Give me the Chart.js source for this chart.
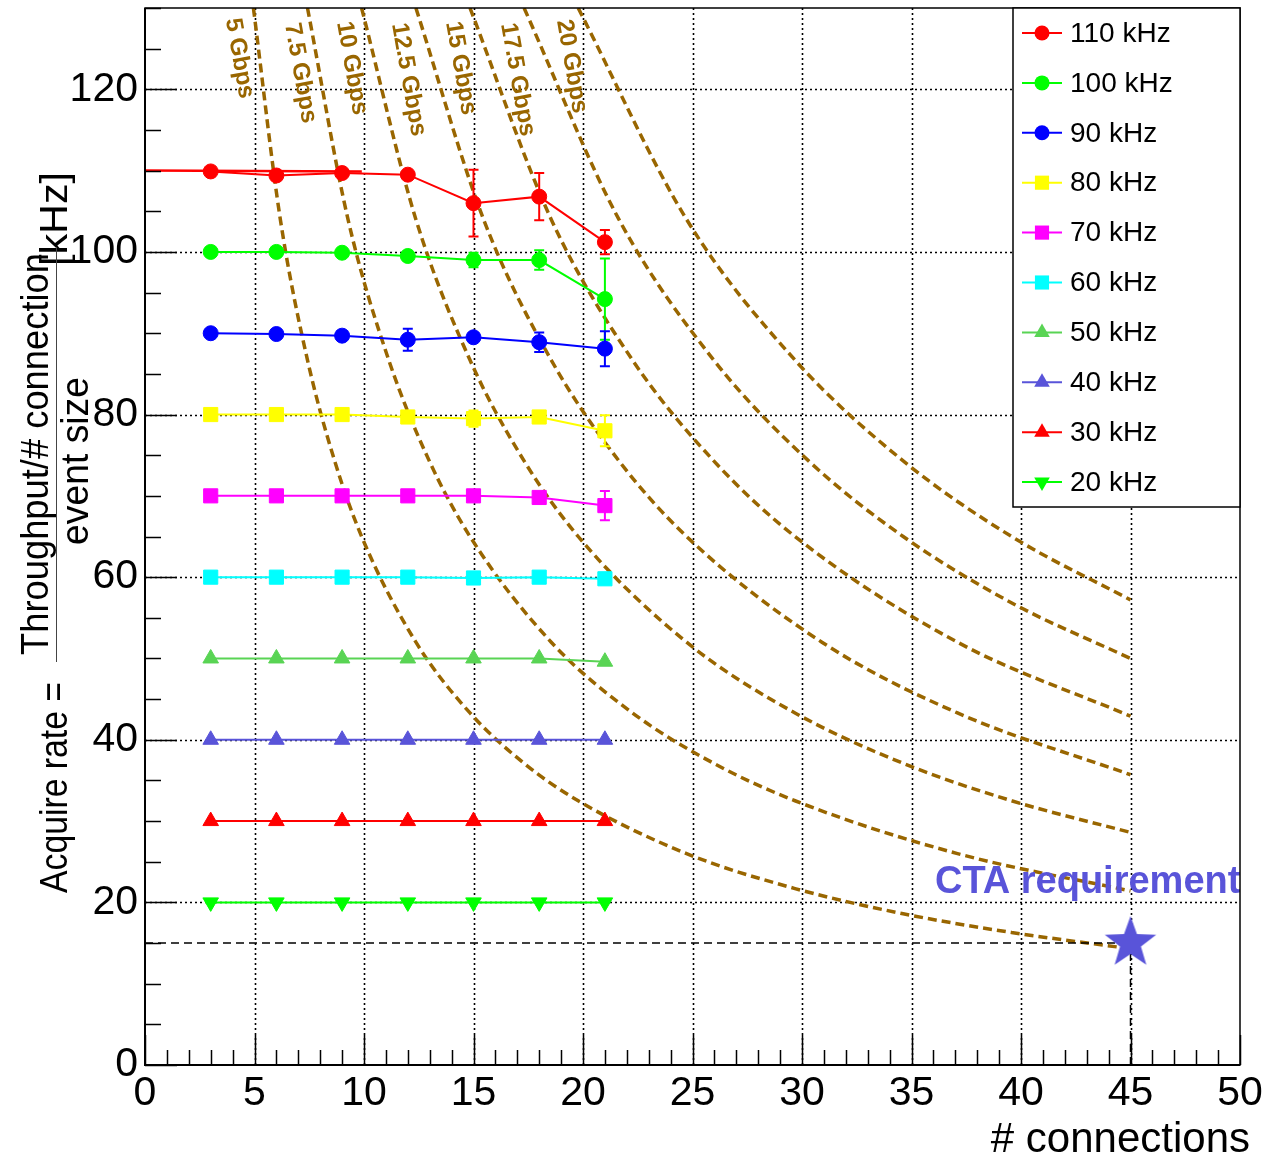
<!DOCTYPE html>
<html>
<head>
<meta charset="utf-8">
<script src="https://cdn.jsdelivr.net/npm/chart.js@4.4.0/dist/chart.umd.min.js"></script>
<style>html,body{margin:0;padding:0;background:#fff;}canvas{display:block;}</style>
</head>
<body>
<canvas id="c" width="1269" height="1162"></canvas>
<script>
// ---------------- data ----------------
const connections = [3, 6, 9, 12, 15, 18, 21];
const rateLabels = ['110 kHz', '100 kHz', '90 kHz', '80 kHz', '70 kHz', '60 kHz', '50 kHz', '40 kHz', '30 kHz', '20 kHz'];
const rate110 = [109.9, 109.4, 109.7, 109.5, 106.0, 106.8, 101.2];
const rate100 = [100.0, 100.0, 99.9, 99.5, 99.0, 99.0, 94.2];
const rate90  = [90.0, 89.9, 89.7, 89.2, 89.5, 88.9, 88.1];
const rate80  = [80.0, 80.0, 80.0, 79.7, 79.5, 79.7, 78.0];
const rate70  = [70.0, 70.0, 70.0, 70.0, 70.0, 69.8, 68.8];
const rate60  = [60.0, 60.0, 60.0, 60.0, 59.9, 60.0, 59.8];
const rate50  = [50.0, 50.0, 50.0, 50.0, 50.0, 50.0, 49.6];
const rate40  = [40.0, 40.0, 40.0, 40.0, 40.0, 40.0, 40.0];
const rate30  = [30.0, 30.0, 30.0, 30.0, 30.0, 30.0, 30.0];
const rate20  = [20.0, 20.0, 20.0, 20.0, 20.0, 20.0, 20.0];
const err110 = [0, 0, 0, 0, 4.1, 2.9, 1.5];
const err100 = [0, 0, 0, 0.6, 0.9, 1.2, 5.0];
const err90  = [0, 0, 0, 1.35, 0, 1.2, 2.15];
const err80  = [0, 0, 0, 0, 1.0, 0, 1.9];
const err70  = [0, 0, 0, 0, 0, 0, 1.8];
const errNone = [0, 0, 0, 0, 0, 0, 0];
// extra red segment at the 110 kHz level on the left
const line110X = [0, 9.9];
const line110Y = [110.0, 109.9];

// throughput curves
const gbpsLabels = ['5 Gbps', '7.5 Gbps', '10 Gbps', '12.5 Gbps', '15 Gbps', '17.5 Gbps', '20 Gbps'];
const curve5X  = [4.95, 6.18, 7.42, 8.66, 9.89, 12.37, 14.84, 17.31, 19.78, 24.73, 29.68, 34.62, 39.57, 45];
const curve5Y  = [130, 104, 86.7, 74.3, 65, 52, 43.3, 37.1, 32.5, 26, 21.7, 18.6, 16.3, 14.3];
const curve7X  = [7.42, 9.27, 11.13, 12.98, 14.84, 18.55, 22.26, 25.97, 29.68, 37.10, 45];
const curve7Y  = [130, 104, 86.7, 74.3, 65, 52, 43.3, 37.1, 32.5, 26, 21.4];
const curve10X = [9.89, 12.37, 14.84, 17.31, 19.78, 24.73, 29.68, 34.62, 39.57, 45];
const curve10Y = [130, 104, 86.7, 74.3, 65, 52, 43.3, 37.1, 32.5, 28.6];
const curve12X = [12.37, 15.46, 18.55, 21.64, 24.73, 30.91, 37.10, 45];
const curve12Y = [130, 104, 86.7, 74.3, 65, 52, 43.3, 35.7];
const curve15X = [14.84, 18.55, 22.26, 25.97, 29.68, 37.10, 45];
const curve15Y = [130, 104, 86.7, 74.3, 65, 52, 42.9];
const curve17X = [17.31, 21.64, 25.97, 30.30, 34.62, 39.6, 45];
const curve17Y = [130, 104, 86.7, 74.3, 65, 56.8, 50.0];
const curve20X = [19.78, 24.73, 29.68, 34.62, 39.57, 45];
const curve20Y = [130, 104, 86.7, 74.3, 65, 57.2];
const gbpsLabelX = [3.69, 6.39, 8.77, 11.28, 13.74, 16.26, 18.81];
const gbpsLabelY = [128.6, 128.0, 128.2, 128.0, 128.2, 128.0, 128.4];

// CTA requirement
const ctaX = [45];
const ctaY = [15];
const ctaLineHX = [0, 45];
const ctaLineHY = [15, 15];
const ctaLineVX = [45, 45];
const ctaLineVY = [0, 15];
const ctaTextX = 36.07;
const ctaTextY = 21.2;

// tick labels
const xTicks = [0, 5, 10, 15, 20, 25, 30, 35, 40, 45, 50];
const yTicks = [0, 20, 40, 60, 80, 100, 120];

// ---------------- styles ----------------
const FONT = 'Liberation Sans, Arial, Helvetica, sans-serif';
const BROWN = '#996600';
const SLATE = 'rgb(89,84,217)';
const LGREEN = 'rgb(89,212,84)';
const rates = [rate110, rate100, rate90, rate80, rate70, rate60, rate50, rate40, rate30, rate20];
const errs = [err110, err100, err90, err80, err70, errNone, errNone, errNone, errNone, errNone];
const sColors = ['#ff0000', '#00ff00', '#0000ff', '#ffff00', '#ff00ff', '#00ffff', LGREEN, SLATE, '#ff0000', '#00ff00'];
const sStyles = ['circle', 'circle', 'circle', 'rect', 'rect', 'rect', 'triangle', 'triangle', 'triangle', 'triangle'];
const sRadius = [7.5, 7.5, 7.5, 10, 10, 10, 9, 9, 9, 9];
const sRot = [0, 0, 0, 0, 0, 0, 0, 0, 0, 180];

const zip = (xs, ys) => xs.map((x, i) => ({x: x, y: ys[i]}));

function makeStar(R, r, color) {
  const c = document.createElement('canvas');
  const s = Math.ceil(2 * R + 2);
  c.width = s; c.height = s;
  const g = c.getContext('2d');
  g.fillStyle = color;
  g.beginPath();
  for (let k = 0; k < 10; k++) {
    const rad = (k % 2 === 0) ? R : r;
    const a = -Math.PI / 2 + k * Math.PI / 5;
    const px = s / 2 + rad * Math.cos(a), py = s / 2 + rad * Math.sin(a);
    if (k) g.lineTo(px, py); else g.moveTo(px, py);
  }
  g.closePath();
  g.fill();
  return c;
}

const datasets = [];
rates.forEach((r, i) => {
  datasets.push({
    label: rateLabels[i],
    data: zip(connections, r),
    errors: errs[i],
    legendEntry: true,
    borderColor: sColors[i],
    backgroundColor: sColors[i],
    pointBackgroundColor: sColors[i],
    pointBorderColor: sColors[i],
    pointBorderWidth: 1,
    pointStyle: sStyles[i],
    pointRadius: sRadius[i],
    pointRotation: sRot[i],
    borderWidth: 2,
    tension: 0,
    fill: false,
    order: 0
  });
});
datasets.push({
  label: '110 line', data: zip(line110X, line110Y), borderColor: '#ff0000', borderWidth: 2.5,
  pointRadius: 0, fill: false, order: 0
});
const curveXs = [curve5X, curve7X, curve10X, curve12X, curve15X, curve17X, curve20X];
const curveYs = [curve5Y, curve7Y, curve10Y, curve12Y, curve15Y, curve17Y, curve20Y];
curveXs.forEach((cx, i) => {
  datasets.push({
    label: gbpsLabels[i], data: zip(cx, curveYs[i]), borderColor: BROWN, borderWidth: 3.5,
    borderDash: [9, 5], pointRadius: 0, fill: false, cubicInterpolationMode: 'monotone', order: 2
  });
});
datasets.push({
  label: 'cta h', data: zip(ctaLineHX, ctaLineHY), borderColor: '#000', borderWidth: 1.5,
  borderDash: [8, 5], pointRadius: 0, fill: false, order: 1
});
datasets.push({
  label: 'cta v', data: zip(ctaLineVX, ctaLineVY), borderColor: '#000', borderWidth: 1.5,
  borderDash: [8, 5], pointRadius: 0, fill: false, order: 1
});
datasets.push({
  label: 'CTA requirement', data: zip(ctaX, ctaY), showLine: false,
  pointStyle: makeStar(27, 11, SLATE), pointRadius: 27, order: -1, clip: false
});

// ---------------- plugins ----------------
function markerPath(ctx, style, x, y, r, rot) {
  ctx.beginPath();
  if (style === 'circle') {
    ctx.arc(x, y, r, 0, Math.PI * 2);
  } else if (style === 'rect') {
    const s = r * Math.SQRT1_2;
    ctx.rect(x - s, y - s, 2 * s, 2 * s);
  } else {
    let a = rot * Math.PI / 180;
    for (let k = 0; k < 3; k++) {
      const px = x + Math.sin(a) * r, py = y - Math.cos(a) * r;
      if (k) ctx.lineTo(px, py); else ctx.moveTo(px, py);
      a += 2 * Math.PI / 3;
    }
    ctx.closePath();
  }
}

const rootPlugin = {
  id: 'root',
  beforeDatasetsDraw(chart) {
    const {ctx, chartArea: a, scales: {x, y}} = chart;
    ctx.save();
    ctx.strokeStyle = '#000';
    ctx.lineWidth = 1.6;
    ctx.setLineDash([2, 3]);
    xTicks.forEach(v => {
      if (v <= 0 || v >= 50) return;
      const px = Math.round(x.getPixelForValue(v)) + 0.5;
      ctx.beginPath(); ctx.moveTo(px, a.top); ctx.lineTo(px, a.bottom); ctx.stroke();
    });
    yTicks.forEach(v => {
      if (v <= 0) return;
      const py = Math.round(y.getPixelForValue(v)) + 0.5;
      ctx.beginPath(); ctx.moveTo(a.left, py); ctx.lineTo(a.right, py); ctx.stroke();
    });
    ctx.restore();
  },
  afterDatasetsDraw(chart) {
    const {ctx, chartArea: a, scales: {x, y}} = chart;
    // error bars
    chart.data.datasets.forEach((ds, di) => {
      if (!ds.errors) return;
      const meta = chart.getDatasetMeta(di);
      ds.errors.forEach((e, i) => {
        if (!e) return;
        const p = meta.data[i];
        const v = ds.data[i].y;
        const y1 = y.getPixelForValue(v + e), y2 = y.getPixelForValue(v - e);
        ctx.save();
        ctx.strokeStyle = ds.borderColor;
        ctx.lineWidth = 2;
        ctx.beginPath();
        ctx.moveTo(p.x, y1); ctx.lineTo(p.x, y2);
        ctx.moveTo(p.x - 5, y1); ctx.lineTo(p.x + 5, y1);
        ctx.moveTo(p.x - 5, y2); ctx.lineTo(p.x + 5, y2);
        ctx.stroke();
        ctx.restore();
      });
    });
    // Gbps labels
    ctx.save();
    ctx.fillStyle = BROWN;
    ctx.font = 'bold 24px ' + FONT;
    ctx.textAlign = 'left';
    ctx.textBaseline = 'alphabetic';
    gbpsLabels.forEach((t, i) => {
      ctx.save();
      ctx.translate(x.getPixelForValue(gbpsLabelX[i]), y.getPixelForValue(gbpsLabelY[i]));
      ctx.rotate(80 * Math.PI / 180);
      ctx.fillText(t, 0, 0);
      ctx.restore();
    });
    ctx.restore();
    // CTA text
    ctx.save();
    ctx.fillStyle = SLATE;
    ctx.font = 'bold 38px ' + FONT;
    ctx.textAlign = 'left';
    ctx.textBaseline = 'alphabetic';
    ctx.fillText('CTA requirement', x.getPixelForValue(ctaTextX), y.getPixelForValue(ctaTextY));
    ctx.restore();
    // frame
    ctx.save();
    ctx.strokeStyle = '#000';
    ctx.lineWidth = 1.5;
    ctx.strokeRect(a.left, a.top, a.right - a.left, a.bottom - a.top);
    ctx.lineWidth = 2;
    ctx.beginPath();
    ctx.moveTo(a.left, a.top); ctx.lineTo(a.left, a.bottom); ctx.lineTo(a.right, a.bottom);
    ctx.stroke();
    // ticks
    ctx.lineWidth = 1.5;
    ctx.beginPath();
    for (let v = 0; v <= 50; v += 1) {
      const px = Math.round(x.getPixelForValue(v)) + 0.5;
      const len = (v % 5 === 0) ? 30 : 15;
      ctx.moveTo(px, a.bottom); ctx.lineTo(px, a.bottom - len);
    }
    for (let v = 0; v <= 130; v += 5) {
      const py = Math.round(y.getPixelForValue(v)) + 0.5;
      const len = (v % 20 === 0) ? 32 : 16;
      ctx.moveTo(a.left, py); ctx.lineTo(a.left + len, py);
    }
    ctx.stroke();
    ctx.restore();
  },
  afterDraw(chart) {
    const {ctx, chartArea: a} = chart;
    // legend
    const lx = 1013, ly = a.top, lw = a.right - 1013, lh = 499;
    ctx.save();
    ctx.fillStyle = '#fff';
    ctx.fillRect(lx, ly, lw, lh);
    ctx.strokeStyle = '#000';
    ctx.lineWidth = 1.5;
    ctx.strokeRect(lx, ly, lw, lh);
    ctx.font = '28px ' + FONT;
    ctx.textAlign = 'left';
    ctx.textBaseline = 'middle';
    let k = 0;
    chart.data.datasets.forEach(ds => {
      if (!ds.legendEntry) return;
      const cy = ly + 25 + k * 49.9;
      ctx.strokeStyle = ds.borderColor;
      ctx.lineWidth = 2;
      ctx.beginPath(); ctx.moveTo(1022, cy); ctx.lineTo(1062, cy); ctx.stroke();
      ctx.fillStyle = ds.borderColor;
      markerPath(ctx, ds.pointStyle, 1042, cy, ds.pointRadius, ds.pointRotation || 0);
      ctx.fill();
      ctx.fillStyle = '#000';
      ctx.fillText(ds.label, 1070, cy + 1);
      k++;
    });
    ctx.restore();
    // axis titles
    ctx.save();
    ctx.fillStyle = '#000';
    ctx.font = '42px ' + FONT;
    ctx.textAlign = 'right';
    ctx.textBaseline = 'alphabetic';
    ctx.fillText('# connections', 1250, 1152);
    ctx.restore();
    const rot = (text, bx, sy, len, size) => {
      ctx.save();
      ctx.fillStyle = '#000';
      ctx.font = size + 'px ' + FONT;
      const w = ctx.measureText(text).width;
      ctx.translate(bx, sy);
      ctx.rotate(-Math.PI / 2);
      ctx.scale(len / w, 1);
      ctx.textAlign = 'left';
      ctx.textBaseline = 'alphabetic';
      ctx.fillText(text, 0, 0);
      ctx.restore();
    };
    rot('Acquire rate =', 67, 893, 211, 39);
    rot('Throughput/# connection', 48, 655, 402, 38);
    rot('event size', 88, 545, 168, 38);
    rot('[kHz]', 67, 266, 94, 38);
    ctx.save();
    ctx.strokeStyle = '#444';
    ctx.lineWidth = 1;
    ctx.beginPath(); ctx.moveTo(56.5, 247); ctx.lineTo(56.5, 662); ctx.stroke();
    ctx.restore();
  }
};

Chart.defaults.font.family = FONT;
new Chart(document.getElementById('c'), {
  type: 'line',
  data: {datasets: datasets},
  options: {
    responsive: false,
    animation: false,
    events: [],
    layout: {autoPadding: false, padding: {top: 8, right: 29, left: 0, bottom: 0}},
    plugins: {legend: {display: false}, tooltip: {enabled: false}},
    scales: {
      x: {
        type: 'linear', min: 0, max: 50,
        grid: {display: false, drawTicks: false},
        border: {display: false},
        ticks: {
          stepSize: 5, includeBounds: false, color: '#000', padding: 4, maxRotation: 0,
          font: {size: 41, family: FONT},
          callback: v => xTicks.includes(v) ? String(v) : ''
        },
        afterFit: s => { s.height = 97; s.paddingLeft = 0; s.paddingRight = 0; }
      },
      y: {
        type: 'linear', min: 0, max: 130,
        grid: {display: false, drawTicks: false},
        border: {display: false},
        ticks: {
          stepSize: 20, includeBounds: false, color: '#000', padding: 7,
          font: {size: 41, family: FONT},
          callback: v => yTicks.includes(v) ? String(v) : ''
        },
        afterFit: s => { s.width = 145; s.paddingTop = 0; s.paddingBottom = 0; }
      }
    }
  },
  plugins: [rootPlugin]
});
</script>
</body>
</html>
